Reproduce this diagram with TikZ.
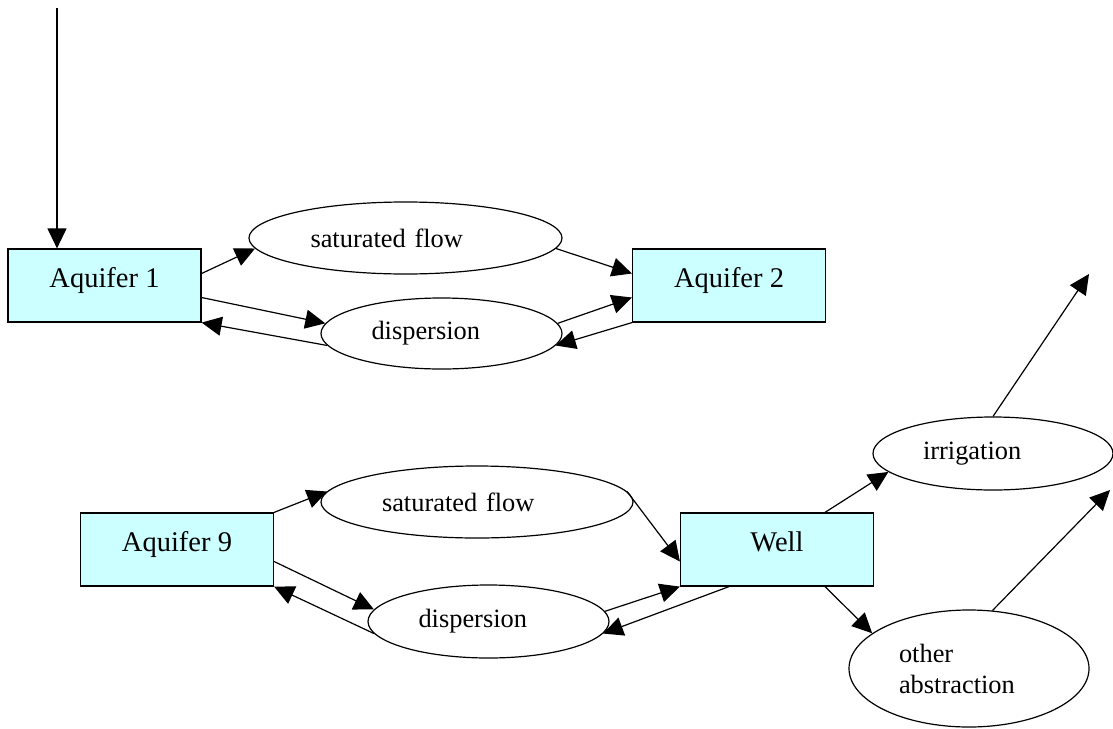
\documentclass[tikz,border=0pt]{standalone}
\usepackage{fontspec}
\setmainfont{Liberation Serif}
\usepackage{xcolor}
\usepackage{tikz}
\usetikzlibrary{shapes.geometric,arrows.meta}
\definecolor{aquiferfill}{RGB}{204,255,255}

\begin{document}
\begin{tikzpicture}[
       x=1pt, y=-1pt,
       aquifer/.style={
           rectangle,
           draw=black,
           fill=aquiferfill,
           line width=1.2pt,
           minimum width=193pt,
           inner sep=0pt,
           text height=38pt,
           text depth=35pt,
           font=\fontsize{28.5}{32}\selectfont
       },
       process/.style={
           ellipse,
           draw=black,
           line width=1.2pt,
           inner sep=0pt,
           text width=140pt,
           align=left,
           font=\fontsize{26.4}{31}\selectfont
       },
       flow/.style={-{Triangle[length=20pt,width=19pt]}, line width=1.2pt}
   ]

   \useasboundingbox (0,0) rectangle (1113,728);

   % Upper aquifers
   \node[aquifer] (aq1) at (104.5,285.5) {Aquifer 1};
   \node[aquifer] (aq2) at (729,285.5) {Aquifer 2};
   \node[process, text width=190pt, minimum width=313pt, minimum height=72pt] (sat1) at (405.5,238) {saturated flow};
   \node[process, minimum width=241pt, minimum height=71pt] (disp1) at (441.5,333.5) {dispersion};


   % Lower aquifer and well
   \node[aquifer] (aq9) at (177,549.5) {Aquifer 9};
   \node[aquifer] (well) at (777,549.5) {Well};
   \node[process, text width=190pt, minimum width=312pt, minimum height=72pt] (sat2) at (477,502) {saturated flow};
   \node[process, minimum width=241pt, minimum height=73pt] (disp2) at (488.5,621.5) {dispersion};


   % Abstractions
   \node[process, minimum width=240pt, minimum height=73pt] (irr) at (993,453.5) {irrigation};
   \node[process, minimum width=240pt, minimum height=117pt] (other) at (969,668.5) {other\\abstraction};


   % Open ends
   \coordinate (rain) at (57,8);
   \coordinate (irrout) at (1089,274);
   \coordinate (otherout) at (1110,490);


   % Upper flows
   \draw[flow] (rain) -- (rain |- aq1.north);
   \draw[flow] ([yshift=12pt]aq1.east) -- (sat1.184);
   \draw[flow] ([yshift=-12pt]aq1.east) -- (disp1.175);
   \draw[flow] (disp1.186) -- (aq1.south east);
   \draw[flow] (sat1.356) -- ([yshift=12pt]aq2.west);
   \draw[flow] (disp1.5.5) -- ([yshift=-12pt]aq2.west);
   \draw[flow] (aq2.south west) -- (disp1.354.5);


   % Lower flows
   \draw[flow] (aq9.north east) -- (sat2.176);
   \draw[flow] ([yshift=-12pt]aq9.east) -- (disp2.174.4);
   \draw[flow] (disp2.186) -- (aq9.south east);
   \draw[flow] (sat2.4.8) -- ([yshift=-12pt]well.west);
   \draw[flow] (disp2.5.5) -- (well.south west);
   \draw[flow] ([xshift=-48pt]well.south) -- (disp2.354.6);


   % Abstraction flows
   \draw[flow] ([xshift=48pt]well.north) -- (irr.190);
   \draw[flow] ([xshift=48pt]well.south) -- (other.160);
   \draw[flow] (irr.north) -- (irrout);
   \draw[flow] (other.68) -- (otherout);

   \end{tikzpicture}
\end{document}
